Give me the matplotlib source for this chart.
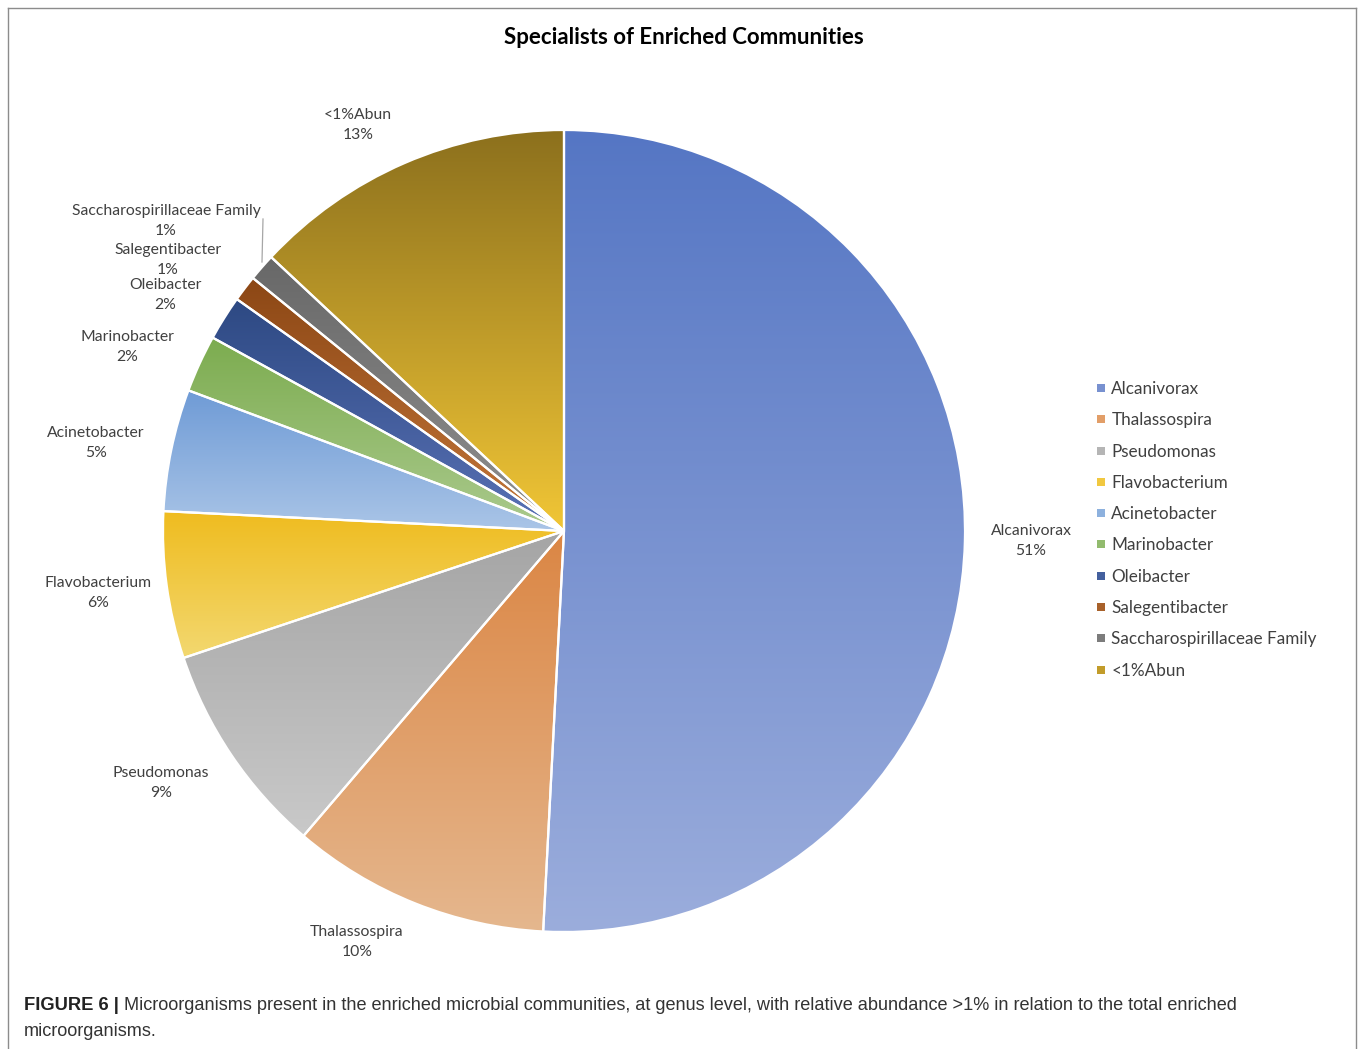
import numpy as np
import matplotlib
matplotlib.use("Agg")
import matplotlib.pyplot as plt
import matplotlib.colors as mc
from matplotlib.lines import Line2D

# ---- data ----
categories = ["Alcanivorax", "Thalassospira", "Pseudomonas", "Flavobacterium",
              "Acinetobacter", "Marinobacter", "Oleibacter", "Salegentibacter",
              "Saccharospirillaceae Family", "<1%Abun"]
values = [50.7, 10.4, 8.6, 5.9, 4.9, 2.3, 1.8, 1.05, 1.1, 13.0]
title = "Specialists of Enriched Communities"
caption_bold = "FIGURE 6 |"
caption_rest_1 = "Microorganisms present in the enriched microbial communities, at genus level, with relative abundance >1% in relation to the total enriched"
caption_rest_2 = "microorganisms."

# ---- styles ----
grad_top = ["#5576C4", "#DB8644", "#A5A5A5", "#EFBC1F", "#6F9BD6",
            "#7CAC4F", "#2D4983", "#8C4715", "#686868", "#8C701D"]
grad_bot = ["#9BADDC", "#E5B78E", "#C9C9C9", "#F3D870", "#AAC5E7",
            "#ABCA8E", "#5A72B6", "#C5783B", "#909090", "#F1C636"]
legend_cols = ["#7891D0", "#E29E68", "#B5B5B5", "#F1C840", "#8DB1DE",
               "#92BB6E", "#44609E", "#A8612A", "#7C7C7C", "#C29C2A"]
label_pos = [(1031, 541), (357, 942), (161, 783), (98, 593), (96, 443),
             (127, 347), (165, 295), (168, 260), (166, 221), (358, 125)]

W, H = 1358, 1049
CX, CY, R = 564, 531, 401
fig = plt.figure(figsize=(W / 100, H / 100), dpi=100)

# pie axes placed so that the pie lands at (CX, CY) with radius R px
half = 1.25 * R
axp = fig.add_axes([(CX - half) / W, (H - CY - half) / H, 2 * half / W, 2 * half / H])
wedges, _ = axp.pie(values, startangle=90, counterclock=False, radius=1.0,
                    wedgeprops=dict(edgecolor="white", linewidth=1.6))
axp.set_xlim(-1.25, 1.25)
axp.set_ylim(-1.25, 1.25)
axp.set_aspect("equal")
axp.axis("off")

for w, ct, cb in zip(wedges, grad_top, grad_bot):
    w.set_facecolor("none")
    w.set_zorder(3)
    ext = w.get_path().get_extents()
    t = np.linspace(0, 1, 256)[:, None]
    c0 = np.array(mc.to_rgb(ct))
    c1 = np.array(mc.to_rgb(cb))
    img = (c0[None, None, :] * (1 - t[..., None]) + c1[None, None, :] * t[..., None])
    img = np.repeat(img, 2, axis=1)
    im = axp.imshow(img, extent=(ext.x0, ext.x1, ext.y0, ext.y1), origin="upper",
                    aspect="auto", zorder=2, interpolation="bilinear")
    im.set_clip_path(w)
axp.set_xlim(-1.25, 1.25)
axp.set_ylim(-1.25, 1.25)

# overlay axes in pixel coordinates
ax = fig.add_axes([0, 0, 1, 1], zorder=5)
ax.set_xlim(0, W)
ax.set_ylim(H, 0)
ax.axis("off")
ax.patch.set_alpha(0)

font = "Lato"
txtc = "#404040"
ax.text(684, 37, title, ha="center", va="center", fontsize=16, fontweight="bold",
        family=font, color="black")

tot = sum(values)
for name, v, (x, y) in zip(categories, values, label_pos):
    ax.text(x, y, f"{name}\n{round(v / tot * 100)}%", ha="center", va="center",
            fontsize=11.3, family=font, color=txtc, linespacing=1.6)

# leader line for Saccharospirillaceae Family
ax.plot([263, 262], [219, 262], color="#A6A6A6", lw=0.9)

# frame
ax.plot([8, 8], [H, 8], color="#8C8C8C", lw=1)
ax.plot([8, 1356], [8, 8], color="#8C8C8C", lw=1)
ax.plot([1356, 1356], [8, H], color="#8C8C8C", lw=1)

# legend
handles = [Line2D([], [], marker="s", ls="none", markersize=5.5, color=c,
                  markeredgewidth=0) for c in legend_cols]
leg = fig.legend(handles, categories, loc="upper left",
                 bbox_to_anchor=(1096 / W, 1 - 381 / H), frameon=False,
                 prop=dict(family=font, size=12.3), labelcolor=txtc,
                 handlelength=0.6, handletextpad=0.3, labelspacing=0.895,
                 borderaxespad=0, borderpad=0)

# caption
cap_font = "Liberation Sans"
t1 = ax.text(24, 1006, caption_bold, ha="left", va="center", fontsize=13.2,
             family=cap_font, fontweight="bold", color="#222222")
fig.canvas.draw()
bb = t1.get_window_extent()
x_after = bb.x1 + 5
ax.text(x_after, 1006, caption_rest_1, ha="left", va="center", fontsize=13.1,
        family=cap_font, color="#333333")
ax.text(24, 1031, caption_rest_2, ha="left", va="center", fontsize=13.1,
        family=cap_font, color="#333333")

fig.savefig("out.png", dpi=100)
